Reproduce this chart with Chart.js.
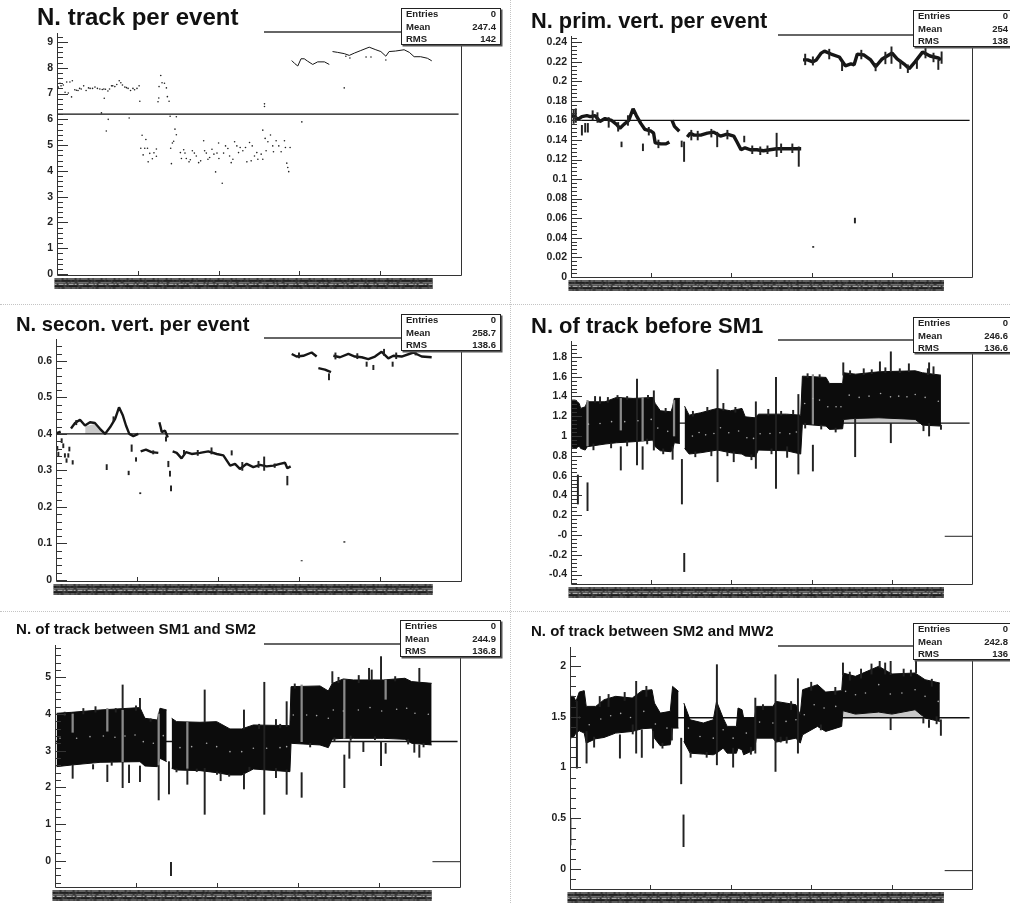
<!DOCTYPE html>
<html>
<head>
<meta charset="utf-8">
<title>Track and vertex monitoring</title>
<script src="https://cdn.jsdelivr.net/npm/chart.js@4/dist/chart.umd.min.js"></script>
<style>
  html, body { margin: 0; padding: 0; background: #fff; }
  #page { position: relative; width: 1010px; height: 903px; overflow: hidden; }
  #page canvas { position: absolute; filter: blur(0.3px); }
  .sep-h { position: absolute; left: 0; width: 1010px; border-top: 1px dotted #c4c4c4; }
  .sep-v { position: absolute; top: 0; height: 903px; border-left: 1px dotted #c4c4c4; }
</style>
</head>
<body>
<div id="page">
  <div class="sep-h" style="top:304px"></div>
  <div class="sep-h" style="top:611px"></div>
  <div class="sep-v" style="left:510px"></div>
</div>
<script>
// panel 1: N. track per event
const p1Ticks = [0, 1, 2, 3, 4, 5, 6, 7, 8, 9];
const p1Labels = ['0', '1', '2', '3', '4', '5', '6', '7', '8', '9'];
const p1Stats = ['0', '247.4', '142'];
const p1Mean = 6.2;
const p1LineX = [290.5, 294, 298, 302, 306, 310, 316.5, 322.6, 331, 337, 339, 341, 347, 355.5, 361.7, 368, 376, 386.4, 394.6, 400.8, 407, 411, 419, 429.6, 436, 442, 450, 458.4, 463.8];
const p1LineY = [8.28, 8.17, 8.07, 8.35, 8.35, 8.26, 8.13, 8.23, 8.23, 8.13, null, 8.63, 8.6, 8.55, 8.48, 8.57, 8.67, 8.8, 8.7, 8.63, 8.45, 8.63, 8.65, 8.7, 8.6, 8.43, 8.43, 8.37, 8.27];
const p1DotX = [1.6, 3.7, 7.8, 10, 12, 14, 16, 18, 19, 22, 26, 30, 33, 36, 41, 47, 53, 58, 58.5, 63, 67.5, 71.6, 77, 81, 86, 91, 94, 99, 101.6, 102.5,
  5, 24, 28, 39, 44, 50, 56, 60, 65, 69, 74, 79, 84, 88, 96,
  355.5, 357.5, 362.5, 382.5, 388.6, 407, 256.8, 256.8, 303, 55, 63.4, 61, 89.3,
  125, 126, 126.3, 128.4, 130, 133, 135.4, 136.6, 138.7, 140, 147.7, 146, 147.7, 144.4, 142.8, 140.7, 141.6,
  105.3, 110, 103.7, 108.6, 112, 106.6, 112.8, 114.8, 118, 120, 123, 123,
  152.7, 154, 156.8, 158.4, 160, 163.4, 165, 167.5, 170, 172.4, 175.3, 177.8, 181.5, 182.7, 184.8, 186.8, 188.9, 191.8, 194.2, 196.3, 198, 200.4, 200, 204.5, 206.2, 208.6, 211.5, 213.6, 215.6, 217.7, 219.8, 222.6, 224.7, 226.7, 230, 233.3, 235, 238.3, 241.6, 240.3, 244.4, 247.3, 248.6, 252.7, 254.7, 254.7, 257.6, 261, 264.2, 258.8, 267, 267.9, 271.2, 274.5, 277.4, 281.5, 282.7, 284.4, 285.6, 286.8, 288.5];
const p1DotY = [7.25, 7.4, 7.33, 7.05, 7.45, 7.02, 7.45, 6.87, 7.5, 7.15, 7.12, 7.18, 7.3, 7.12, 7.2, 7.25, 7.18, 7.18, 6.82, 7.1, 7.3, 7.27, 7.5, 7.33, 7.23, 7.12, 7.2, 7.2, 7.3, 6.7,
  7.3, 7.13, 7.2, 7.22, 7.2, 7.2, 7.16, 7.17, 7.18, 7.3, 7.35, 7.42, 7.25, 7.2, 7.15,
  7.22, 8.45, 8.38, 8.42, 8.42, 8.3, 6.6, 6.5, 5.9, 6.25, 6.0, 5.55, 6.05,
  6.68, 6.83, 7.27, 7.7, 7.42, 7.4, 7.22, 6.88, 6.7, 6.12, 6.1, 5.62, 5.4, 5.15, 5.08, 4.88, 4.28,
  5.38, 5.22, 4.88, 4.88, 4.88, 4.62, 4.35, 4.68, 4.47, 4.7, 4.85, 4.57,
  4.71, 4.48, 4.82, 4.69, 4.48, 4.35, 4.43, 4.78, 4.69, 4.58, 4.32, 4.39, 5.17, 4.78, 4.69, 4.45, 4.52, 4.84, 4.65, 3.96, 4.69, 4.48, 5.08, 3.52, 4.69, 4.97, 4.87, 4.58, 4.32, 4.45, 5.13, 4.97, 4.71, 4.91, 4.78, 4.91, 4.35, 5.1, 4.97, 4.39, 4.58, 4.71, 4.45, 4.65, 4.45, 5.58, 5.26, 5.13, 5.39, 4.78, 4.97, 4.74, 5.17, 4.97, 4.74, 5.17, 4.91, 4.3, 4.13, 3.97, 4.91];

// panel 2: N. prim. vert. per event
const p2Ticks = [0, 0.02, 0.04, 0.06, 0.08, 0.1, 0.12, 0.14, 0.16, 0.18, 0.2, 0.22, 0.24];
const p2Labels = ['0', '0.02', '0.04', '0.06', '0.08', '0.1', '0.12', '0.14', '0.16', '0.18', '0.2', '0.22', '0.24'];
const p2Stats = ['0', '254', '138'];
const p2Mean = 0.16;
const p2LineX = [1, 4.5, 8.6, 13.6, 19.8, 24, 30, 36, 42.4, 50.6, 56.8, 61, 66, 72, 77.4, 81.5, 87, 92, 100, 103, 105, 112, 118.5, 122.6, 124, 126, 129, 135, 140, 145, 148.6, 153.5, 161.7, 170, 178, 182.3, 186.4, 194.6, 203, 207, 212, 217, 223.5, 231.7, 240, 248, 256.4, 264.6, 272.8, 281, 287, 288, 289.3, 295, 301.6, 305.8, 312, 316, 324.3, 334.6, 342, 349, 353, 357, 365.4, 373.7, 379.8, 388, 400.4, 406.6, 415, 421.8, 429, 438.3, 447.7, 458, 461.3];
const p2LineY = [0.165, 0.164, 0.161, 0.164, 0.165, 0.164, 0.165, 0.159, 0.162, 0.16, 0.156, 0.152, 0.156, 0.16, 0.172, 0.165, 0.157, 0.151, 0.149, 0.147, 0.137, 0.136, 0.136, 0.138, null, 0.16, 0.154, 0.149, null, 0.143, 0.147, 0.145, 0.145, 0.147, 0.148, 0.146, 0.144, 0.146, 0.144, 0.138, 0.13, 0.132, 0.13, 0.13, 0.129, 0.13, 0.131, 0.131, 0.131, 0.131, 0.131, null, 0.222, 0.222, 0.22, 0.222, 0.229, 0.231, 0.228, 0.225, 0.216, 0.218, 0.217, 0.228, 0.227, 0.222, 0.215, 0.223, 0.229, 0.223, 0.218, 0.213, 0.22, 0.23, 0.226, 0.224, 0.222];
const p2SpikeX = [3.3, 13.6, 17.7, 21, 58.8, 63, 89.7, 138, 141, 182.3, 216, 256.4, 284, 301.6, 354, 302, 379.8, 399.6, 410.7, 431.3, 458, 462.1,
  6, 27, 33, 47, 71, 97, 109, 150, 158, 175, 195, 226, 236, 245, 262, 276, 292, 322, 338, 362, 392, 420, 442, 452];
const p2SpikeLo = [0.157, 0.145, 0.148, 0.148, 0.149, 0.133, 0.129, 0.133, 0.118, 0.133, 0.138, 0.123, 0.113, 0.2167, 0.055, 0.03, 0.2108, 0.2184, 0.2132, 0.2132, 0.2122, 0.2184,
  0.158, 0.16, 0.158, 0.153, 0.155, 0.145, 0.132, 0.14, 0.14, 0.143, 0.141, 0.126, 0.125, 0.126, 0.127, 0.127, 0.217, 0.223, 0.211, 0.223, 0.218, 0.209, 0.224, 0.22];
const p2SpikeHi = [0.1706, 0.155, 0.157, 0.157, 0.158, 0.138, 0.136, 0.139, 0.138, 0.148, 0.144, 0.147, 0.133, 0.2252, 0.06, 0.031, 0.2184, 0.2354, 0.2218, 0.2218, 0.2218, 0.2303,
  0.172, 0.17, 0.168, 0.163, 0.165, 0.153, 0.14, 0.15, 0.149, 0.151, 0.15, 0.134, 0.133, 0.134, 0.136, 0.136, 0.228, 0.233, 0.22, 0.232, 0.23, 0.217, 0.235, 0.229];

// panel 3: N. secon. vert. per event
const p3Ticks = [0, 0.1, 0.2, 0.3, 0.4, 0.5, 0.6];
const p3Labels = ['0', '0.1', '0.2', '0.3', '0.4', '0.5', '0.6'];
const p3Stats = ['0', '258.7', '138.6'];
const p3Mean = 0.4;
const p3LineX = [0.8, 5.8, 10, 18.5, 23.5, 29.6, 35.8, 42, 48, 54.3, 60.5, 66.7, 73, 77.8, 82.3, 86.4, 90.5, 95.5, 101.6, 103, 104.5, 111, 118, 126.3, 127, 127.6, 129, 130.5, 134.6, 138, 141, 144, 149, 155, 160.5, 167.5, 177.8, 188, 198.4, 206.6, 215, 221, 227, 235.4, 243.6, 251.9, 260, 268.3, 276.5, 282.7, 285.6, 289.7, 290.5, 291, 297, 305.3, 315.6, 321.8, 322.6, 323.9, 332, 339.5, 341, 342.4, 350.6, 361, 369, 377.4, 385.6, 393.8, 402, 410.3, 416.5, 426.7, 441.2, 451.4, 463.8];
const p3LineY = [0.402, 0.406, null, 0.415, 0.43, 0.439, 0.423, 0.432, 0.43, 0.414, 0.4, 0.418, 0.441, 0.473, 0.452, 0.423, 0.4, 0.394, 0.4, null, 0.352, 0.357, 0.35, 0.348, null, 0.432, 0.42, 0.405, 0.409, 0.39, null, 0.352, 0.348, 0.333, 0.35, 0.345, 0.348, 0.352, 0.345, 0.341, 0.313, 0.318, 0.304, 0.318, 0.309, 0.315, 0.311, 0.313, 0.318, 0.321, 0.306, 0.311, null, 0.619, 0.612, 0.614, 0.623, 0.612, null, 0.58, 0.576, 0.569, null, 0.614, 0.61, 0.619, 0.612, 0.61, 0.605, 0.612, 0.625, 0.607, 0.614, 0.612, 0.623, 0.612, 0.61];
const p3SpikeX = [1.6, 2.9, 7, 9, 11, 13, 15.2, 16.5, 20.6, 62.6, 89.7, 93.4, 98.8, 104, 135.8, 138.7, 140.7, 142, 216.9, 285.6, 337, 303.3, 356, 383.5, 391.8, 415.6,
  25, 71, 120, 158, 175, 192, 230, 250, 257, 270, 300, 345, 372, 405, 420, 444];
const p3SpikeLo = [0.355, 0.34, 0.376, 0.362, 0.336, 0.322, 0.336, 0.353, 0.317, 0.302, 0.288, 0.352, 0.325, 0.236, 0.38, 0.31, 0.284, 0.244, 0.342, 0.26, 0.548, 0.052, 0.103, 0.585, 0.576, 0.585,
  0.425, 0.435, 0.345, 0.342, 0.341, 0.345, 0.3, 0.308, 0.3, 0.308, 0.608, 0.605, 0.606, 0.615, 0.606, 0.616];
const p3SpikeHi = [0.366, 0.35, 0.387, 0.373, 0.346, 0.332, 0.346, 0.364, 0.327, 0.316, 0.298, 0.37, 0.335, 0.239, 0.392, 0.325, 0.298, 0.258, 0.354, 0.284, 0.565, 0.053, 0.105, 0.597, 0.588, 0.597,
  0.437, 0.447, 0.354, 0.355, 0.355, 0.362, 0.322, 0.325, 0.337, 0.318, 0.622, 0.622, 0.62, 0.632, 0.622, 0.628];
const p3ShadeX = [36, 47, 57];
const p3ShadeHi = [0.42, 0.427, 0.408];
const p3ShadeLo = [0.4, 0.4, 0.4];

// panel 4: N. of track before SM1
const p4Ticks = [-0.4, -0.2, 0, 0.2, 0.4, 0.6, 0.8, 1, 1.2, 1.4, 1.6, 1.8];
const p4Labels = ['-0.4', '-0.2', '-0', '0.2', '0.4', '0.6', '0.8', '1', '1.2', '1.4', '1.6', '1.8'];
const p4Stats = ['0', '246.6', '136.6'];
const p4Mean = 1.13;
const p4Zero = -0.013;
const p4BandX = [0.4, 5.3, 10.3, 12, 17.7, 20.2, 42.4, 56.8, 77.4, 102, 105, 111.5, 124.7, 126.7, 128.8, 135.8, 138, 141.6, 147.3, 161.7, 182.3, 198.8, 213.2, 217.3, 229.6, 233.7, 268.7, 286.4, 288.5, 318, 322.2, 338.7, 340, 355, 384, 429.2, 438.3, 461.3];
const p4BandHi = [1.363, 1.363, 1.329, 1.279, 1.295, 1.346, 1.346, 1.39, 1.38, 1.39, 1.329, 1.255, 1.245, 1.295, 1.38, 1.38, null, 1.302, 1.211, 1.235, 1.279, 1.255, 1.279, 1.194, 1.184, 1.221, 1.221, 1.211, 1.605, 1.592, 1.531, 1.531, 1.639, 1.625, 1.649, 1.659, 1.639, 1.615];
const p4BandLo = [0.892, 0.875, 0.898, 0.875, 0.858, 0.892, 0.919, 0.932, 0.942, 0.959, 0.892, 0.851, 0.841, 0.865, 0.932, 0.925, null, 0.875, 0.818, 0.831, 0.858, 0.831, 0.818, 0.797, 0.791, 0.858, 0.851, 0.818, 1.12, 1.1, 1.067, 1.073, 1.168, 1.178, 1.184, 1.168, 1.11, 1.1];
const p4CenterX = [21.8, 36.2, 50.6, 67, 83.5, 100, 108.2, 120.6, 151.4, 159.7, 167.9, 178.2, 186.4, 196.7, 209, 219.3, 227.6, 235.8, 248.1, 260.5, 272.8, 281, 291.4, 301.6, 309.9, 320.2, 330.5, 336.6, 346.9, 359.3, 371.6, 386, 398.4, 408.6, 418.9, 429.2, 441.6, 458];
const p4CenterY = [1.12, 1.127, 1.145, 1.145, 1.155, 1.168, 1.08, 1.047, 0.999, 1.036, 1.012, 1.026, 1.083, 1.033, 1.05, 0.982, 0.976, 1.023, 1.026, 1.033, 1.023, 1.04, 1.329, 1.379, 1.363, 1.295, 1.295, 1.295, 1.413, 1.39, 1.403, 1.43, 1.396, 1.403, 1.396, 1.42, 1.39, 1.352];
const p4SpikeX = [8.6, 20.6, 36.2, 62.1, 82.3, 89.3, 103.3, 126.7, 138.3, 141.2, 182.7, 202.9, 230.5, 255.6, 269.5, 283.5, 301.6, 339.5, 354.3, 385.2, 398.8, 398.8, 421.3, 446.5, 446.5, 439.5, 461.3,
  30, 46, 58, 70, 96, 118, 152, 170, 190, 205, 246, 262, 277, 295, 310, 348, 365, 375, 392, 410, 445, 452,
  28, 50, 70, 95, 115, 155, 175, 195, 225, 250, 292, 312, 330];
const p4SpikeLo = [0.313, 0.246, 1.329, 0.656, 0.707, 0.663, 0.858, 0.764, 0.313, -0.37, 0.538, 0.74, 0.673, 0.471, 0.784, 0.616, 0.646, 1.615, 0.791, 1.649, 0.932, 1.649, 1.649, 1, 1.632, 1.053, 1.067,
  1.34, 1.34, 1.38, 1.37, 1.38, 1.24, 1.2, 1.25, 1.26, 1.24, 1.21, 1.21, 1.22, 1.59, 1.59, 1.62, 1.62, 1.63, 1.64, 1.64, 1.62, 1.62,
  0.86, 0.88, 0.9, 0.92, 0.82, 0.79, 0.8, 0.8, 0.76, 0.82, 1.08, 1.07, 1.04];
const p4SpikeHi = [0.606, 0.528, 1.396, 0.892, 1.575, 0.892, 1.457, 0.892, 0.764, -0.185, 1.672, 0.841, 1.346, 1.592, 0.892, 1.42, 0.908, 1.74, 1.178, 1.75, 1.127, 1.851, 1.73, 1.127, 1.74, 1.11, 1.11,
  1.4, 1.39, 1.41, 1.4, 1.41, 1.28, 1.25, 1.29, 1.33, 1.29, 1.27, 1.25, 1.26, 1.63, 1.62, 1.66, 1.68, 1.67, 1.69, 1.68, 1.68, 1.7,
  0.92, 0.93, 0.95, 0.97, 0.87, 0.84, 0.85, 0.84, 0.81, 0.87, 1.13, 1.11, 1.08];
const p4PaleX = [20.6, 62.1, 89.3, 128.5, 301.6];
const p4PaleLo = [0.9, 1.06, 0.95, 1.0, 1.12];
const p4PaleHi = [1.36, 1.38, 1.39, 1.36, 1.62];
const p4ShadeX = [340, 438];
const p4ShadeHi = [1.19, 1.19];
const p4ShadeLo = [1.13, 1.13];

// panel 5: N. of track between SM1 and SM2
const p5Ticks = [0, 1, 2, 3, 4, 5];
const p5Labels = ['0', '1', '2', '3', '4', '5'];
const p5Stats = ['0', '244.9', '136.8'];
const p5Mean = 3.25;
const p5Zero = -0.027;
const p5BandX = [2, 20.6, 55.6, 104.9, 111, 126.3, 129.6, 137.9, 140, 144, 150.2, 179, 199.6, 216, 230.5, 244.9, 290, 291.4, 327.2, 337.4, 342.4, 356, 368.3, 405.3, 432, 440.3, 465];
const p5BandHi = [4.018, 4.045, 4.109, 4.173, 3.882, 3.836, 4.155, 4.11, null, 3.882, 3.791, 3.773, 3.791, 3.591, 3.591, 3.7, 3.682, 4.745, 4.764, 4.627, 4.836, 4.955, 4.927, 4.927, 4.973, 4.882, 4.836];
const p5BandLo = [2.564, 2.609, 2.682, 2.7, 2.582, 2.564, 2.791, 2.7, null, 2.518, 2.473, 2.455, 2.4, 2.336, 2.336, 2.5, 2.427, 3.2, 3.155, 3.082, 3.318, 3.336, 3.336, 3.336, 3.309, 3.2, 3.155];
const p5CenterX = [6.2, 26.7, 43.2, 59.7, 74, 86.4, 98.8, 109, 121.4, 133.7, 154.3, 168.7, 187.2, 199.6, 216, 230.5, 244.9, 261.3, 277.8, 286, 294.2, 310.7, 323, 337.4, 343.6, 356, 374.5, 388.9, 403.3, 421.8, 434.2, 444.4, 460.9];
const p5CenterY = [3.336, 3.336, 3.382, 3.4, 3.364, 3.4, 3.427, 3.245, 3.2, 3.409, 3.082, 3.109, 3.2, 3.109, 2.973, 2.973, 3.064, 3.064, 3.082, 3.109, 3.973, 3.973, 3.955, 3.882, 4.109, 4.082, 4.109, 4.173, 4.082, 4.127, 4.155, 4.018, 3.991];
const p5SpikeX = [21.8, 64.6, 83.5, 91.4, 104.9, 104.9, 128, 140.7, 143.2, 163.4, 184.8, 184.8, 204.5, 233.3, 233.3, 258.4, 272.8, 272.8, 286, 286, 304.5, 342.4, 357.2, 363.4, 380.7, 387.7, 391, 402.5, 402.5, 408.2, 443.6, 449.8, 449.8,
  12, 35, 47, 50, 70, 100, 75, 118, 150, 175, 200, 215, 240, 252, 278, 296, 315, 345, 350, 365, 375, 395, 420, 436, 455];
const p5SpikeLo = [2.245, 2.155, 1.991, 2.127, 4.155, 2.155, 1.655, 1.818, -0.409, 2.082, 3.791, 1.264, 2.18, 3.591, 1.955, 1.264, 3.7, 2.264, 3.655, 1.809, 1.727, 4.836, 1.991, 2.791, 2.973, 4.927, 4.927, 4.927, 2.591, 2.927, 2.955, 4.882, 2.818,
  3.95, 4, 2.5, 4.05, 2.6, 4.1, 4.05, 3.8, 2.42, 2.43, 2.35, 2.3, 2.45, 3.6, 3.62, 4.7, 3.1, 3.25, 4.85, 3.28, 4.85, 3.3, 4.9, 3.18, 3.1];
const p5SpikeHi = [2.609, 2.609, 4.791, 2.609, 4.427, 2.582, 2.609, 2.7, -0.045, 2.518, 4.655, 2.518, 2.4, 4.109, 2.382, 4.864, 3.85, 2.518, 4.336, 2.473, 2.4, 5.155, 2.882, 3.245, 3.245, 5.245, 5.2, 5.564, 3.245, 3.2, 3.173, 5.245, 3.155,
  4.05, 4.15, 2.62, 4.2, 2.7, 4.22, 4.15, 3.87, 2.5, 2.5, 2.42, 2.36, 2.55, 3.72, 3.72, 4.82, 3.2, 3.35, 5, 3.4, 5.05, 3.38, 5.02, 3.3, 3.2];
const p5PaleX = [21.8, 64.6, 83.5, 128, 163.4, 304.5, 357.2, 408.2];
const p5PaleLo = [3.5, 3.53, 2.7, 2.61, 2.52, 3.245, 3.336, 4.4];
const p5PaleHi = [4.0, 4.15, 4.1, 4.0, 3.77, 4.791, 4.927, 4.927];

// panel 6: N. of track between SM2 and MW2
const p6Ticks = [0, 0.5, 1, 1.5, 2];
const p6Labels = ['0', '0.5', '1', '1.5', '2'];
const p6Stats = ['0', '242.8', '136'];
const p6Mean = 1.49;
const p6Zero = -0.016;
const p6BandX = [0.4, 4.5, 7.4, 11.5, 17.7, 20.2, 32, 42.4, 56.8, 77.4, 89.7, 102, 105, 112.3, 124.7, 127.6, 135, 137, 141.6, 149.4, 165.8, 178.2, 182.3, 190.5, 195.5, 207, 209, 214, 216, 229.6, 231.7, 252.3, 256.4, 281, 286.4, 289.3, 307.8, 318, 337.9, 339.5, 355, 384, 400.4, 429.2, 441.6, 460];
const p6BandHi = [1.701, 1.701, 1.651, 1.743, 1.757, 1.602, 1.602, 1.668, 1.701, 1.684, 1.757, 1.766, 1.635, 1.536, 1.553, 1.799, 1.75, null, 1.635, 1.47, 1.438, 1.47, 1.651, 1.487, 1.405, 1.405, 1.586, 1.569, 1.487, 1.487, 1.602, 1.602, 1.651, 1.618, 1.52, 1.766, 1.816, 1.743, 1.757, 1.931, 1.898, 1.997, 1.921, 1.931, 1.865, 1.832];
const p6BandLo = [1.289, 1.3, 1.339, 1.362, 1.339, 1.24, 1.283, 1.296, 1.339, 1.355, 1.382, 1.388, 1.289, 1.214, 1.224, 1.388, 1.388, null, 1.257, 1.141, 1.132, 1.125, 1.141, 1.191, 1.141, 1.141, 1.191, 1.174, 1.125, 1.174, 1.289, 1.289, 1.25, 1.289, 1.24, 1.322, 1.405, 1.355, 1.405, 1.559, 1.526, 1.546, 1.526, 1.569, 1.487, 1.454];
const p6CenterX = [11.5, 23.9, 38.3, 50.6, 63, 75.3, 91.8, 106.2, 120.6, 147.3, 161.7, 178.2, 190.5, 202.9, 219.3, 235.8, 252.3, 268.7, 281, 291.4, 303.7, 316, 330.5, 342.8, 355.1, 367.5, 384, 398.4, 412.8, 429.2, 441.6, 458];
const p6CenterY = [1.493, 1.421, 1.477, 1.51, 1.533, 1.493, 1.553, 1.428, 1.388, 1.388, 1.306, 1.289, 1.372, 1.289, 1.339, 1.447, 1.438, 1.454, 1.47, 1.52, 1.618, 1.586, 1.602, 1.75, 1.717, 1.734, 1.816, 1.724, 1.734, 1.766, 1.701, 1.651];
const p6SpikeX = [0.5, 8.6, 20.6, 62.1, 82.3, 89.3, 103.3, 126.7, 138.3, 141.2, 182.7, 202.9, 230.5, 255.6, 269.5, 283.5, 339.5, 385.2, 398.8, 398.8, 430.4, 446.5, 461.3, 439.5,
  30, 37, 48, 68, 78, 95, 115, 150, 170, 225, 240, 262, 275, 300, 312, 330, 348, 362, 375, 392, 415, 424, 450, 456];
const p6SpikeLo = [0.237, 0.993, 1.043, 1.092, 1.141, 1.099, 1.191, 1.27, 0.839, 0.22, 1.026, 1.003, 1.141, 0.961, 1.24, 1.141, 1.914, 1.98, 1.372, 1.914, 1.931, 1.395, 1.316, 1.438,
  1.2, 1.6, 1.6, 1.66, 1.33, 1.7, 1.19, 1.1, 1.1, 1.13, 1.57, 1.25, 1.57, 1.76, 1.37, 1.72, 1.86, 1.88, 1.92, 1.92, 1.9, 1.9, 1.8, 1.43];
const p6SpikeHi = [0.5, 1.651, 1.355, 1.322, 1.849, 1.372, 1.355, 1.388, 1.289, 0.533, 2.013, 1.191, 1.684, 1.914, 1.3, 1.875, 2.03, 2.046, 1.487, 2.046, 2.063, 1.47, 1.47, 1.487,
  1.3, 1.7, 1.72, 1.74, 1.42, 1.8, 1.24, 1.15, 1.15, 1.2, 1.62, 1.3, 1.65, 1.84, 1.42, 1.79, 1.94, 1.97, 2.02, 2.03, 1.97, 1.96, 1.87, 1.5];
const p6ShadeX = [339.5, 430, 438];
const p6ShadeHi = [1.58, 1.58, 1.52];
const p6ShadeLo = [1.49, 1.49, 1.49];

const xMajor = [100, 200, 300, 400];
const statNames = ['Entries', 'Mean', 'RMS'];

const panels = [
  { title: 'N. track per event', titleSize: 24, titleX: 37, titleY: 18, canvasTop: 0, canvasRight: 505,
    left: 57, right: 461, top: 33, bottom: 275, ymin: -0.04, ymax: 9.35, minorStep: 0.2,
    ticks: p1Ticks, labels: p1Labels, stats: p1Stats, mean: p1Mean, meanEnd: 497,
    lineX: p1LineX, lineY: p1LineY, lineWidth: 1, dotX: p1DotX, dotY: p1DotY,
    frameTopX: 264, box: { x: 401, y: 8, w: 100, h: 37 }, valueRight: 496 },
  { title: 'N. prim. vert. per event', titleSize: 21.8, titleX: 531, titleY: 22, canvasTop: 4, canvasRight: 1010,
    left: 571, right: 972, top: 36, bottom: 277, ymin: -0.0003, ymax: 0.2465, minorStep: 0.004,
    ticks: p2Ticks, labels: p2Labels, stats: p2Stats, mean: p2Mean, meanEnd: 497,
    lineX: p2LineX, lineY: p2LineY, lineWidth: 3.4, spikeX: p2SpikeX, spikeLo: p2SpikeLo, spikeHi: p2SpikeHi,
    frameTopX: 778, box: { x: 913, y: 10, w: 100, h: 37 }, valueRight: 1008 },
  { title: 'N. secon. vert. per event', titleSize: 20.2, titleX: 16, titleY: 325, canvasTop: 308, canvasRight: 505,
    left: 56, right: 461, top: 339, bottom: 581, ymin: -0.003, ymax: 0.66, minorStep: 0.02,
    ticks: p3Ticks, labels: p3Labels, stats: p3Stats, mean: p3Mean, meanEnd: 497,
    lineX: p3LineX, lineY: p3LineY, lineWidth: 2.4, spikeX: p3SpikeX, spikeLo: p3SpikeLo, spikeHi: p3SpikeHi,
    shadeX: p3ShadeX, shadeHi: p3ShadeHi, shadeLo: p3ShadeLo,
    frameTopX: 264, box: { x: 401, y: 314, w: 100, h: 37 }, valueRight: 496 },
  { title: 'N. of track before SM1', titleSize: 22, titleX: 531, titleY: 327, canvasTop: 310, canvasRight: 1010,
    left: 571, right: 972, top: 341, bottom: 584, ymin: -0.495, ymax: 1.96, minorStep: 0.04,
    ticks: p4Ticks, labels: p4Labels, stats: p4Stats, mean: p4Mean, meanEnd: 497, zero: p4Zero,
    bandX: p4BandX, bandHi: p4BandHi, bandLo: p4BandLo, centerX: p4CenterX, centerY: p4CenterY,
    spikeX: p4SpikeX, spikeLo: p4SpikeLo, spikeHi: p4SpikeHi, paleX: p4PaleX, paleLo: p4PaleLo, paleHi: p4PaleHi,
    shadeX: p4ShadeX, shadeHi: p4ShadeHi, shadeLo: p4ShadeLo,
    frameTopX: 778, box: { x: 913, y: 317, w: 100, h: 36 }, valueRight: 1008 },
  { title: 'N. of track between SM1 and SM2', titleSize: 15.1, titleX: 16, titleY: 630, canvasTop: 612, canvasRight: 505,
    left: 55, right: 460, top: 645, bottom: 887, ymin: -0.717, ymax: 5.88, minorStep: 0.2,
    ticks: p5Ticks, labels: p5Labels, stats: p5Stats, mean: p5Mean, meanEnd: 497, zero: p5Zero,
    bandX: p5BandX, bandHi: p5BandHi, bandLo: p5BandLo, centerX: p5CenterX, centerY: p5CenterY,
    spikeX: p5SpikeX, spikeLo: p5SpikeLo, spikeHi: p5SpikeHi, paleX: p5PaleX, paleLo: p5PaleLo, paleHi: p5PaleHi,
    frameTopX: 264, box: { x: 400, y: 620, w: 101, h: 37 }, valueRight: 496 },
  { title: 'N. of track between SM2 and MW2', titleSize: 15, titleX: 531, titleY: 632, canvasTop: 614, canvasRight: 1010,
    left: 570, right: 972, top: 647, bottom: 889, ymin: -0.197, ymax: 2.187, minorStep: 0.1,
    ticks: p6Ticks, labels: p6Labels, stats: p6Stats, mean: p6Mean, meanEnd: 497, zero: p6Zero,
    bandX: p6BandX, bandHi: p6BandHi, bandLo: p6BandLo, centerX: p6CenterX, centerY: p6CenterY,
    spikeX: p6SpikeX, spikeLo: p6SpikeLo, spikeHi: p6SpikeHi,
    shadeX: p6ShadeX, shadeHi: p6ShadeHi, shadeLo: p6ShadeLo,
    frameTopX: 778, box: { x: 913, y: 623, w: 100, h: 37 }, valueRight: 1008 }
];

const FONT = '"Liberation Sans", Arimo, Helvetica, Arial, sans-serif';

const pts = (xs, ys) => xs.map((x, i) => ({ x, y: ys[i] }));
const bars = (xs, lo, hi) => xs.map((x, i) => ({ x, y: [lo[i], hi[i]] }));

function buildDatasets(p) {
  const sets = [];
  if (p.shadeX) {
    sets.push({ type: 'line', data: pts(p.shadeX, p.shadeHi), borderWidth: 0, pointRadius: 0, backgroundColor: '#c9c9c9', fill: '+1', order: 7 });
    sets.push({ type: 'line', data: pts(p.shadeX, p.shadeLo), borderWidth: 0, pointRadius: 0, order: 7 });
  }
  sets.push({ type: 'line', data: [{ x: 0, y: p.mean }, { x: p.meanEnd, y: p.mean }], borderColor: '#111', borderWidth: 1.3, pointRadius: 0, order: 6 });
  if (p.zero !== undefined) {
    sets.push({ type: 'line', data: [{ x: 466, y: p.zero }, { x: 500, y: p.zero }], borderColor: '#222', borderWidth: 1, pointRadius: 0, order: 6 });
  }
  if (p.bandX) {
    sets.push({ type: 'line', data: pts(p.bandX, p.bandHi), borderColor: '#0c0c0c', backgroundColor: '#0c0c0c', borderWidth: 1, pointRadius: 0, fill: '+1', order: 4 });
    sets.push({ type: 'line', data: pts(p.bandX, p.bandLo), borderColor: '#0c0c0c', borderWidth: 1, pointRadius: 0, order: 4 });
  }
  if (p.lineX) {
    sets.push({ type: 'line', data: pts(p.lineX, p.lineY), borderColor: '#161616', borderWidth: p.lineWidth, borderJoinStyle: 'bevel', pointRadius: 0, order: 4 });
  }
  if (p.dotX) {
    sets.push({ type: 'line', data: pts(p.dotX, p.dotY), showLine: false, pointRadius: 0.8, pointBorderWidth: 0, pointBackgroundColor: '#222', order: 3 });
  }
  if (p.spikeX) {
    sets.push({ type: 'bar', data: bars(p.spikeX, p.spikeLo, p.spikeHi), backgroundColor: '#222', barThickness: 1.3, grouped: false, order: 3 });
  }
  if (p.paleX) {
    sets.push({ type: 'bar', data: bars(p.paleX, p.paleLo, p.paleHi), backgroundColor: '#8a8a8a', barThickness: 1.6, grouped: false, order: 2 });
  }
  if (p.centerX) {
    sets.push({ type: 'line', data: pts(p.centerX, p.centerY), showLine: false, pointRadius: 0.8, pointBorderWidth: 0, pointBackgroundColor: '#a8a8a8', order: 1 });
  }
  return sets;
}

// ROOT style frame: inward ticks, broken top edge, overprinted bin labels, stats box
const stripeDash = [[7, 2, 3, 1], [3, 1, 1, 2, 9, 1], [11, 2, 2, 1, 4, 3], [2, 2, 5, 1], [9, 3, 1, 1], [4, 1, 2, 3, 6, 1]];
const stripeColor = ['#8c8c8c', '#1a1a1a', '#6c6c6c', '#a8a8a8', '#141414', '#7a7a7a'];

function framePlugin(p) {
  return {
    id: 'rootFrame',
    afterDatasetsDraw(chart) {
      const ctx = chart.ctx;
      const area = chart.chartArea;
      const sx = chart.scales.x;
      const sy = chart.scales.y;
      const boxX = p.box.x - p.titleX;
      const boxY = p.box.y - p.canvasTop;
      ctx.save();

      ctx.strokeStyle = '#333';
      ctx.lineWidth = 1;
      ctx.beginPath();
      ctx.moveTo(area.left + 0.5, area.top);
      ctx.lineTo(area.left + 0.5, area.bottom + 0.5);
      ctx.lineTo(area.right + 0.5, area.bottom + 0.5);
      ctx.lineTo(area.right + 0.5, boxY + p.box.h);
      ctx.stroke();
      ctx.lineWidth = 1.4;
      ctx.beginPath();
      ctx.moveTo(p.frameTopX - p.titleX, area.top - 1);
      ctx.lineTo(boxX, area.top - 1);
      ctx.stroke();

      ctx.lineWidth = 1;
      ctx.beginPath();
      const first = p.ticks[0] - Math.floor((p.ticks[0] - p.ymin) / p.minorStep) * p.minorStep;
      for (let v = first; v <= p.ymax; v += p.minorStep) {
        const y = Math.round(sy.getPixelForValue(v)) + 0.5;
        ctx.moveTo(area.left, y);
        ctx.lineTo(area.left + 6, y);
      }
      p.ticks.forEach((v) => {
        const y = Math.round(sy.getPixelForValue(v)) + 0.5;
        ctx.moveTo(area.left, y);
        ctx.lineTo(area.left + 11, y);
      });
      xMajor.forEach((v) => {
        const x = Math.round(sx.getPixelForValue(v)) + 0.5;
        ctx.moveTo(x, area.bottom);
        ctx.lineTo(x, area.bottom - 4);
      });
      ctx.stroke();

      const bx0 = sx.getPixelForValue(-3);
      const bx1 = sx.getPixelForValue(465);
      const by = area.bottom + 3;
      ctx.fillStyle = '#3a3a3a';
      ctx.fillRect(bx0, by, bx1 - bx0, 11);
      ctx.lineWidth = 1.2;
      stripeColor.forEach((col, i) => {
        ctx.strokeStyle = col;
        ctx.setLineDash(stripeDash[i]);
        ctx.beginPath();
        ctx.moveTo(bx0, by + 1 + i * 1.8);
        ctx.lineTo(bx1, by + 1 + i * 1.8);
        ctx.stroke();
      });
      ctx.setLineDash([]);

      ctx.fillStyle = '#555';
      ctx.fillRect(boxX + 1.5, boxY + 1.5, p.box.w, p.box.h);
      ctx.fillStyle = '#fff';
      ctx.fillRect(boxX, boxY, p.box.w, p.box.h);
      ctx.strokeStyle = '#222';
      ctx.lineWidth = 1;
      ctx.strokeRect(boxX + 0.5, boxY + 0.5, p.box.w - 1, p.box.h - 1);
      ctx.fillStyle = '#222';
      ctx.font = 'bold 9.5px ' + FONT;
      ctx.textBaseline = 'middle';
      statNames.forEach((name, i) => {
        const y = boxY + 6.5 + i * 12.4;
        ctx.textAlign = 'left';
        ctx.fillText(name, boxX + 5, y);
        ctx.textAlign = 'right';
        ctx.fillText(p.stats[i], p.valueRight - p.titleX, y);
      });
      ctx.restore();
    }
  };
}

const page = document.getElementById('page');

panels.forEach((p) => {
  const canvas = document.createElement('canvas');
  const W = p.canvasRight - p.titleX;
  const H = p.bottom + 16 - p.canvasTop;
  canvas.style.left = p.titleX + 'px';
  canvas.style.top = p.canvasTop + 'px';
  page.appendChild(canvas);
  canvas.width = W;
  canvas.height = H;

  const lh = p.titleSize * 1.2;
  new Chart(canvas, {
    type: 'line',
    data: { datasets: buildDatasets(p) },
    options: {
      responsive: false,
      animation: false,
      events: [],
      spanGaps: false,
      layout: {
        autoPadding: false,
        padding: { left: 0, top: 0, right: p.canvasRight - p.right, bottom: p.canvasTop + H - p.bottom }
      },
      plugins: {
        legend: { display: false },
        tooltip: { enabled: false },
        title: {
          display: true,
          text: p.title,
          align: 'start',
          color: '#111',
          font: { family: FONT, size: p.titleSize, weight: 'bold', lineHeight: 1.2 },
          padding: { top: p.titleY - lh / 2 - p.canvasTop, bottom: p.top - p.titleY - lh / 2 }
        }
      },
      scales: {
        x: {
          type: 'linear',
          min: 0,
          max: 500,
          offset: false,
          grid: { display: false },
          border: { display: false },
          ticks: { display: false },
          afterFit: (s) => { s.height = 0; }
        },
        y: {
          type: 'linear',
          min: p.ymin,
          max: p.ymax,
          grid: { display: false, drawTicks: false },
          border: { display: false },
          afterBuildTicks: (s) => { s.ticks = p.ticks.map((v) => ({ value: v })); },
          afterFit: (s) => { s.width = p.left - p.titleX; },
          ticks: {
            autoSkip: false,
            includeBounds: false,
            padding: 4,
            color: '#222',
            font: { family: FONT, size: 10.5, weight: 'bold' },
            callback: (v, i) => p.labels[i]
          }
        }
      }
    },
    plugins: [framePlugin(p)]
  });
});
</script>
</body>
</html>
